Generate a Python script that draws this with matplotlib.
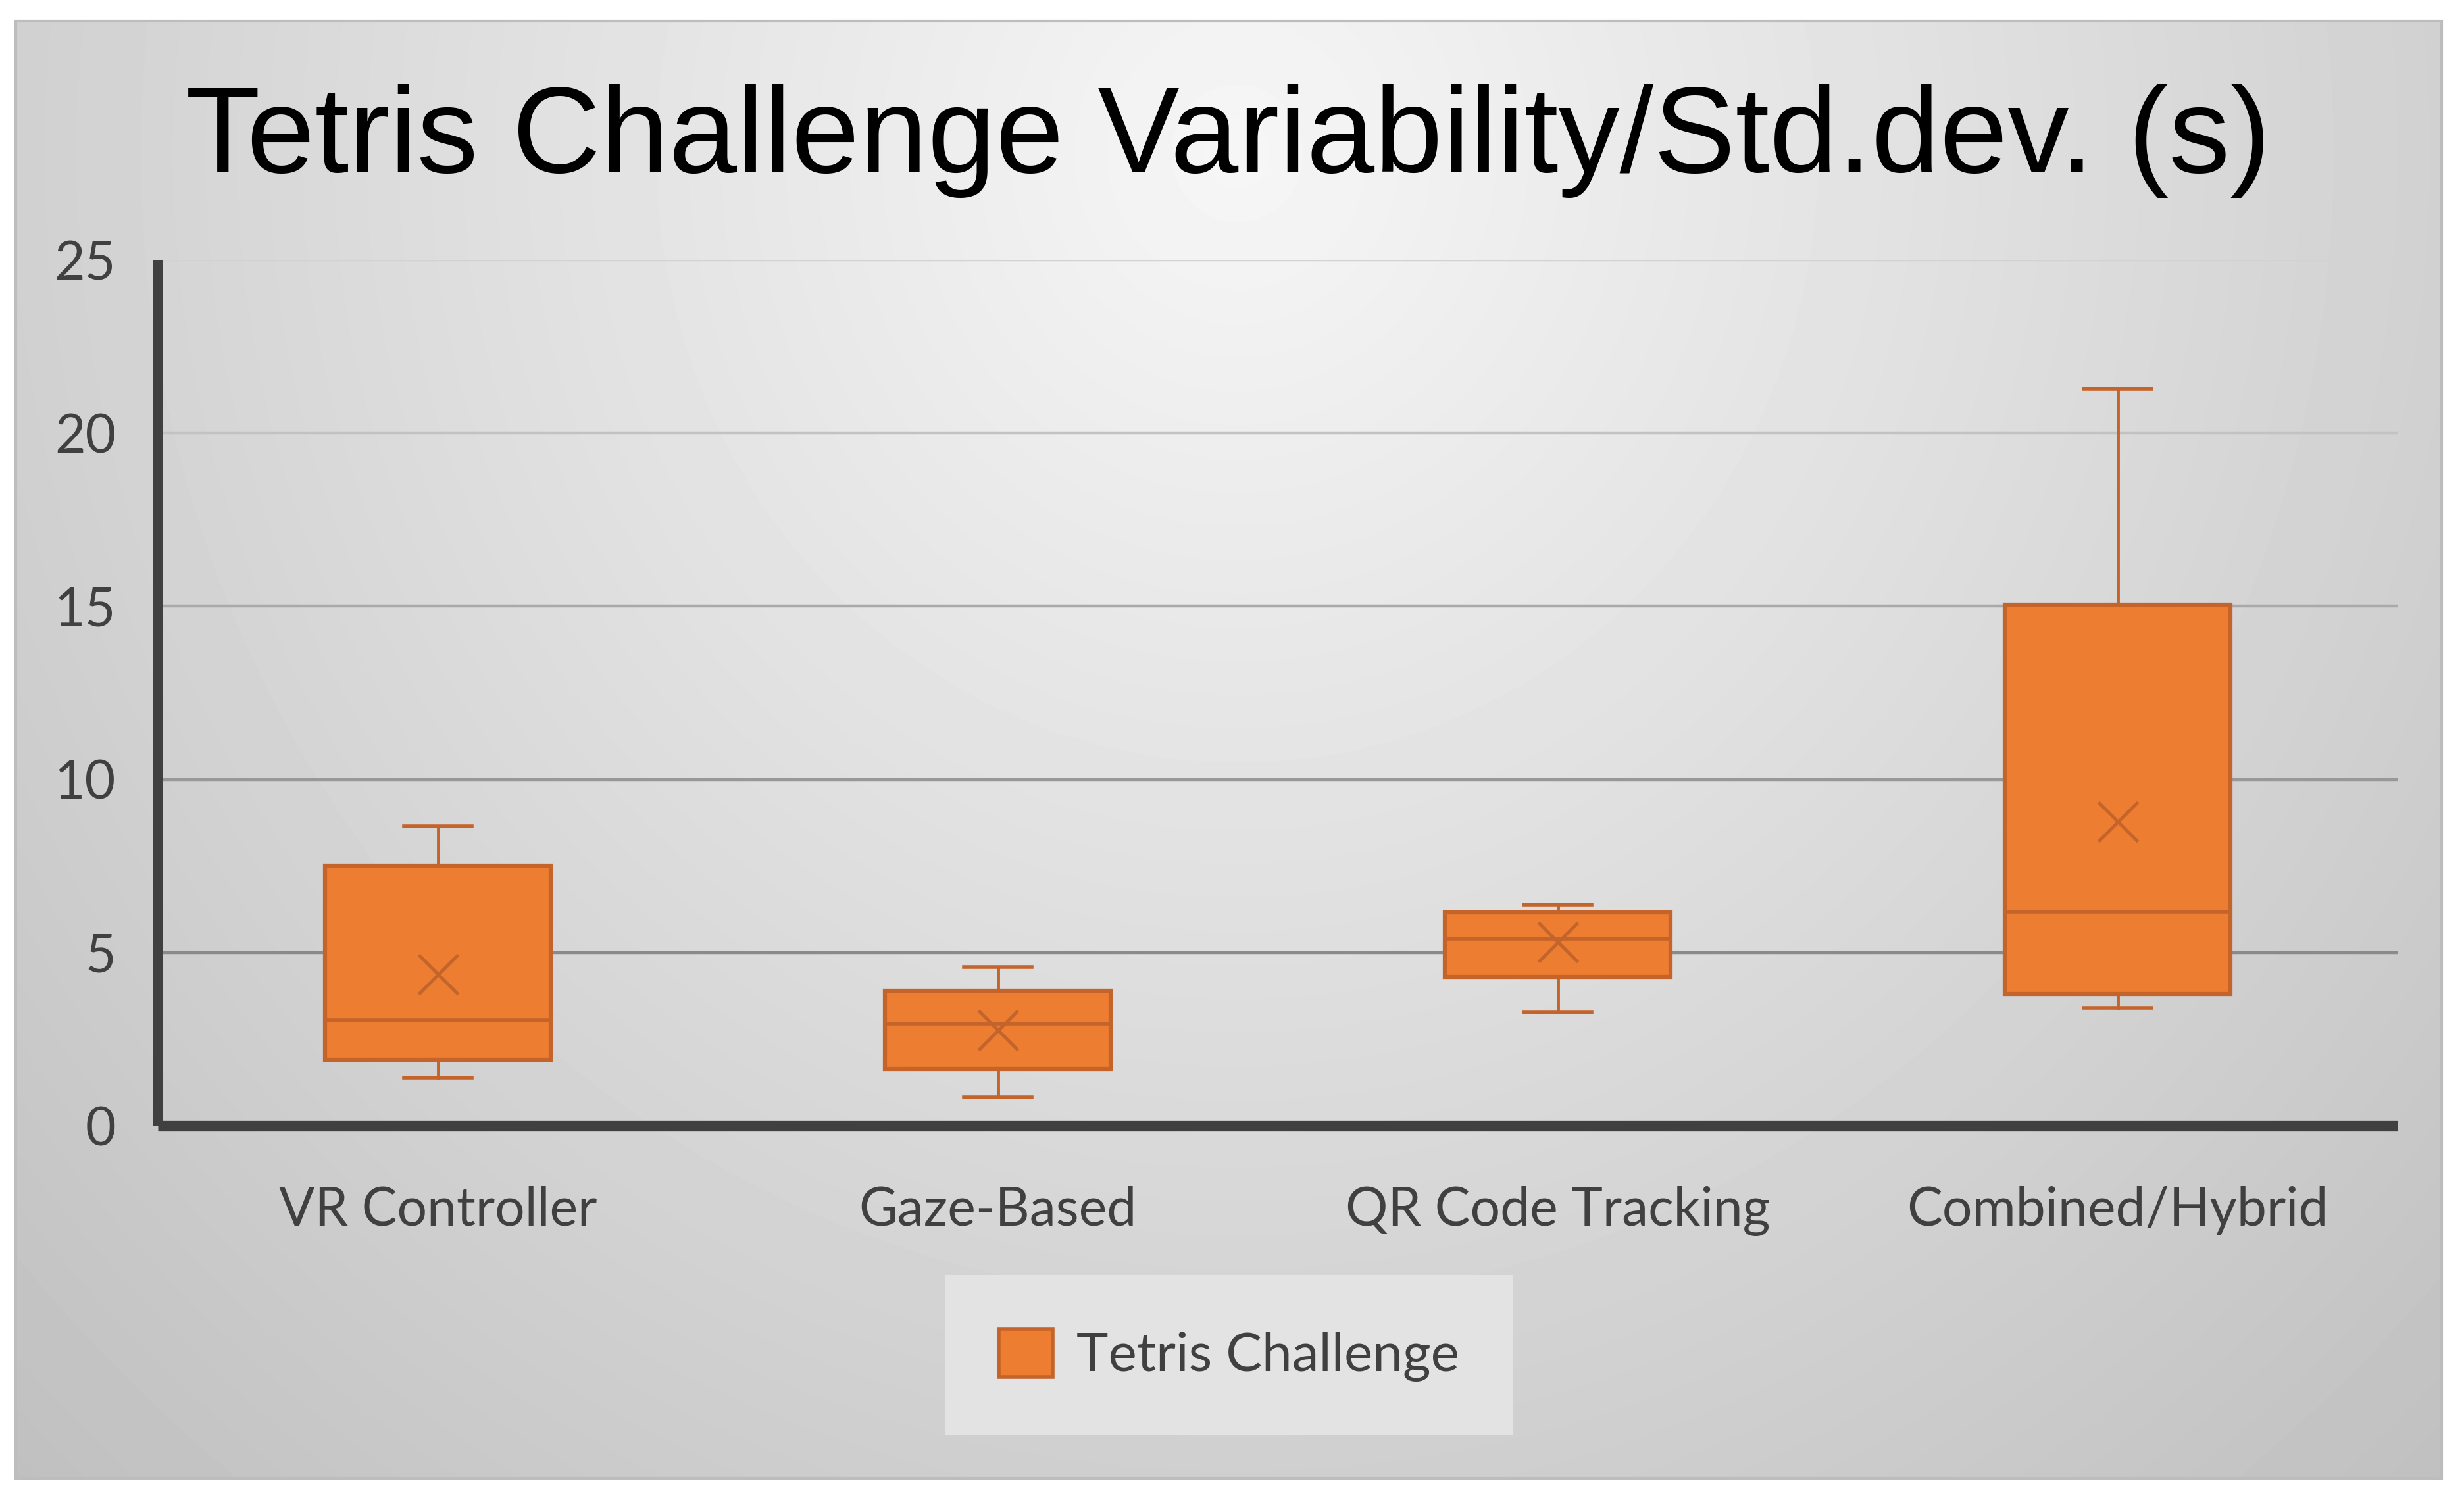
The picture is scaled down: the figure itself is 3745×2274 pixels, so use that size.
import numpy as np
import matplotlib
matplotlib.use("Agg")
import matplotlib.pyplot as plt
from matplotlib.patches import Patch, Rectangle

# data
categories = ["VR Controller", "Gaze-Based", "QR Code Tracking", "Combined/Hybrid"]
whisker_low = [1.38, 0.82, 3.26, 3.40]
q1 = [1.90, 1.63, 4.30, 3.79]
median = [3.04, 2.94, 5.39, 6.18]
q3 = [7.51, 3.90, 6.16, 15.05]
whisker_high = [8.64, 4.57, 6.39, 21.28]
mean = [4.36, 2.76, 5.30, 8.78]
y_ticks = [0, 5, 10, 15, 20, 25]
series_name = "Tetris Challenge"
title = "Tetris Challenge Variability/Std.dev. (s)"

W, H = 3745, 2274
DPI = 100
FILL = "#ED7D31"
EDGE = "#C4632A"
TEXT = "#404040"
LABEL_FONT = ["Lato", "DejaVu Sans"]

fig = plt.figure(figsize=(W / DPI, H / DPI), dpi=DPI)
fig.patch.set_facecolor("white")

# gradient background of the chart area
bg = fig.add_axes([0, 0, 1, 1], zorder=-10)
bg.set_xlim(0, W)
bg.set_ylim(H, 0)
bg.axis("off")
x0, y0, x1, y1 = 24, 32, 3711, 2247
xx, yy = np.meshgrid(np.linspace(x0, x1, 400), np.linspace(y0, y1, 250))
dist = np.hypot((xx - 1880) / 1.0, (yy - 230) / 1.05)
shade = np.clip(0.965 - 0.215 * dist / 2700, 0, 1)
bg.imshow(shade, cmap="gray", vmin=0, vmax=1, extent=(x0, x1, y1, y0),
          aspect="auto", interpolation="bilinear")
bg.add_patch(Rectangle((x0, y0), x1 - x0, y1 - y0, fill=False,
                       edgecolor="#bdbdbd", linewidth=3))

# main axes
left, right = 240 / W, 3644 / W
bottom, top = 1 - 1711 / H, 1 - 395 / H
ax = fig.add_axes([left, bottom, right - left, top - bottom])
ax.set_facecolor("none")

grid_colors = ["#8a8a8a", "#989898", "#a9a9a9", "#c2c2c2", "#d2d2d2"]
for val, col in zip(y_ticks[1:], grid_colors):
    ax.axhline(val, color=col, linewidth=3.2, zorder=1)

stats = []
for i, cat in enumerate(categories):
    stats.append({
        "label": cat,
        "whislo": whisker_low[i],
        "q1": q1[i],
        "med": median[i],
        "q3": q3[i],
        "whishi": whisker_high[i],
        "mean": mean[i],
        "fliers": [],
    })

box_w = 0.404
ax.bxp(stats, positions=range(1, len(categories) + 1), widths=box_w,
       capwidths=box_w * 0.3, patch_artist=True, showmeans=True,
       showfliers=False,
       boxprops=dict(facecolor=FILL, edgecolor=EDGE, linewidth=4.5),
       medianprops=dict(color=EDGE, linewidth=4.0),
       whiskerprops=dict(color=EDGE, linewidth=3.5),
       capprops=dict(color=EDGE, linewidth=4.0),
       meanprops=dict(marker="x", markersize=43, markeredgecolor=EDGE,
                      markeredgewidth=3.5),
       zorder=3)

ax.set_xlim(0.5, len(categories) + 0.5)
ax.set_ylim(0, 25)
ax.set_yticks(y_ticks)
ax.set_xticks(range(1, len(categories) + 1))
ax.set_xticklabels(categories)

for side in ["top", "right"]:
    ax.spines[side].set_visible(False)
ax.spines["left"].set_color(TEXT)
ax.spines["left"].set_linewidth(11.5)
ax.spines["bottom"].set_color(TEXT)
ax.spines["bottom"].set_linewidth(11)
ax.spines["left"].set_zorder(4)
ax.spines["bottom"].set_zorder(4)
ax.spines["left"].set_capstyle("butt")
ax.spines["bottom"].set_capstyle("butt")

ax.tick_params(axis="y", length=0, pad=46, labelsize=58, labelcolor=TEXT)
ax.tick_params(axis="x", length=0, pad=66, labelsize=58, labelcolor=TEXT)
for lab in ax.get_xticklabels() + ax.get_yticklabels():
    lab.set_fontfamily(LABEL_FONT)

fig.text(1867 / W, 1 - 262 / H, title, ha="center", va="baseline",
         fontsize=134, color="black", family=["Liberation Sans", "DejaVu Sans"])

handle = Patch(facecolor=FILL, edgecolor=EDGE, linewidth=4)
leg = fig.legend([handle], [series_name], loc="center",
                 bbox_to_anchor=(1868 / W, 1 - 2060 / H),
                 frameon=True, fancybox=False, facecolor="#e3e3e3",
                 edgecolor="none", framealpha=1, borderpad=1.0,
                 handlelength=1.0, handleheight=1.0, handletextpad=0.45,
                 prop={"family": LABEL_FONT, "size": 59})
for t in leg.get_texts():
    t.set_color(TEXT)

fig.savefig("out.png", dpi=DPI)
